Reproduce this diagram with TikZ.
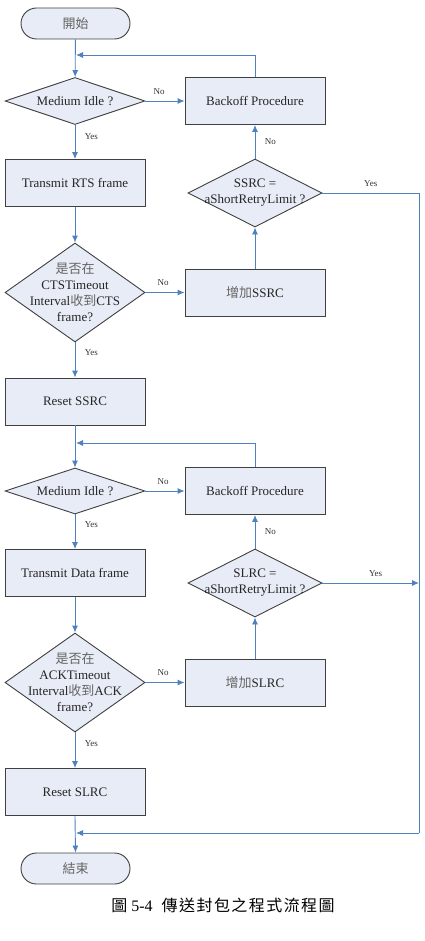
\documentclass[tikz,border=0pt]{standalone}
\usepackage{fontspec}
\setmainfont{Liberation Serif}
\newfontfamily\cjk{Noto Sans CJK TC}
\usetikzlibrary{shapes.geometric,arrows.meta}

\definecolor{boxfill}{RGB}{232,236,246}
\definecolor{boxline}{RGB}{64,64,64}
\definecolor{flowblue}{RGB}{79,129,189}
\definecolor{cjkgray}{RGB}{100,100,100}

\tikzset{
  procbox/.style = {draw=boxline, fill=boxfill, line width=0.9pt,
    minimum width=140pt, minimum height=47pt, inner sep=0pt,
    font=\fontsize{13}{16}\selectfont, text=black!85},
  decision/.style = {draw=boxline, fill=boxfill, line width=0.9pt,
    diamond, inner sep=0pt},
  decisiontext/.style = {align=center, font=\fontsize{13}{16}\selectfont,
    text=black!85},
  terminal/.style = {draw=boxline, fill=boxfill, line width=0.9pt,
    rounded corners=15.5pt, minimum width=109pt, minimum height=31pt,
    inner sep=0pt, font=\fontsize{13}{16}\selectfont},
  flow/.style = {draw=flowblue, line width=0.9pt,
    -{Latex[length=7pt,width=6pt]}},
  flowline/.style = {draw=flowblue, line width=0.9pt},
  answer/.style = {font=\fontsize{9}{10}\selectfont, text=black!80}
}

\begin{document}
\begin{tikzpicture}[x=1pt, y=-1pt]
  \useasboundingbox (0,0) rectangle (424,941);

  % ---- RTS part
  \node[terminal] (start) at (75.5,23.5) {\cjk\color{cjkgray}開始};
  \coordinate (m1) at (76,55);
  \node[decision, minimum width=140pt, minimum height=47pt] (idle1) at (75,101) {};
  \node[decisiontext] (idle1t) at (idle1) {Medium Idle ?};
  \node[procbox] (backoff1) at (255,101) {Backoff Procedure};
  \node[procbox] (rts) at (75,183) {Transmit RTS frame};
  \node[decision, minimum width=134pt, minimum height=68pt] (ssrc) at (255,193) {};
  \node[decisiontext] (ssrct) at (ssrc) {SSRC =\\aShortRetryLimit ?};
  \node[decision, minimum width=140pt, minimum height=99pt] (cts) at (75,292.5) {};
  \node[decisiontext] (ctst) at (cts) {{\cjk\color{cjkgray}是否在}\\CTSTimeout\\Interval{\cjk\color{cjkgray}收到}CTS\\frame?};
  \node[procbox] (incssrc) at (255,292.5) {{\cjk\color{cjkgray}增加}SSRC};
  \node[procbox] (resetssrc) at (75,401.5) {Reset SSRC};

  % ---- Data part
  \coordinate (m2) at (76,443);
  \node[decision, minimum width=140pt, minimum height=46pt] (idle2) at (75,491) {};
  \node[decisiontext] (idle2t) at (idle2) {Medium Idle ?};
  \node[procbox] (backoff2) at (255,491) {Backoff Procedure};
  \node[procbox] (data) at (75,573) {Transmit Data frame};
  \node[decision, minimum width=134pt, minimum height=68pt] (slrc) at (255,583) {};
  \node[decisiontext] (slrct) at (slrc) {SLRC =\\aShortRetryLimit ?};
  \node[decision, minimum width=140pt, minimum height=99pt] (ack) at (75,682.5) {};
  \node[decisiontext] (ackt) at (ack) {{\cjk\color{cjkgray}是否在}\\ACKTimeout\\Interval{\cjk\color{cjkgray}收到}ACK\\frame?};
  \node[procbox] (incslrc) at (255,682.5) {{\cjk\color{cjkgray}增加}SLRC};
  \node[procbox] (resetslrc) at (75,792) {Reset SLRC};
  \coordinate (m3) at (76,833);
  \node[terminal] (stop) at (75.5,868.5) {\cjk\color{cjkgray}結束};
  \coordinate (rtop) at (419,193);
  \coordinate (rbot) at (419,833);

  % ---- connectors
  \draw[flow] (start) -- (idle1);
  \draw[flow] (backoff1.north) |- (m1);
  \draw[flow] (idle1.east) -- node[answer, above=3pt, pos=0.35] {No} (backoff1.west);
  \draw[flow] (idle1.south) -- node[answer, right=6pt, pos=0.35] {Yes} (rts.north);
  \draw[flow] (rts.south) -- (cts.north);
  \draw[flow] (cts.east) -- node[answer, above=3pt, pos=0.45] {No} (incssrc.west);
  \draw[flow] (incssrc.north) -- (ssrc.south);
  \draw[flow] (ssrc.north) -- node[answer, right=6pt] {No} (backoff1.south);
  \draw[flow] (cts.south) -- node[answer, right=6pt, pos=0.3] {Yes} (resetssrc.north);
  \draw[flowline] (ssrc.east) -- node[answer, above=3pt] {Yes} (rtop) -- (rbot);
  \draw[flow] (rbot) -- (m3);

  \draw[flow] (resetssrc.south) -- (idle2.north);
  \draw[flow] (backoff2.north) |- (m2);
  \draw[flow] (idle2.east) -- node[answer, above=3pt, pos=0.45] {No} (backoff2.west);
  \draw[flow] (idle2.south) -- node[answer, right=6pt, pos=0.3] {Yes} (data.north);
  \draw[flow] (data.south) -- (ack.north);
  \draw[flow] (ack.east) -- node[answer, above=3pt, pos=0.45] {No} (incslrc.west);
  \draw[flow] (incslrc.north) -- (slrc.south);
  \draw[flow] (slrc.north) -- node[answer, right=6pt] {No} (backoff2.south);
  \draw[flow] (slrc.east) -- node[answer, above=3pt, pos=0.55] {Yes} (slrc.east -| rbot);
  \draw[flow] (ack.south) -- node[answer, right=6pt, pos=0.3] {Yes} (resetslrc.north);
  \draw[flow] (resetslrc.south) -- (stop.north);

  % ---- caption
  \node[font=\fontsize{16}{18}\selectfont] (caption) at (223,905)
    {{\cjk 圖} 5-4\hspace{9pt}{\cjk\addfontfeature{LetterSpace=9}傳送封包之程式流程圖}};
\end{tikzpicture}
\end{document}
